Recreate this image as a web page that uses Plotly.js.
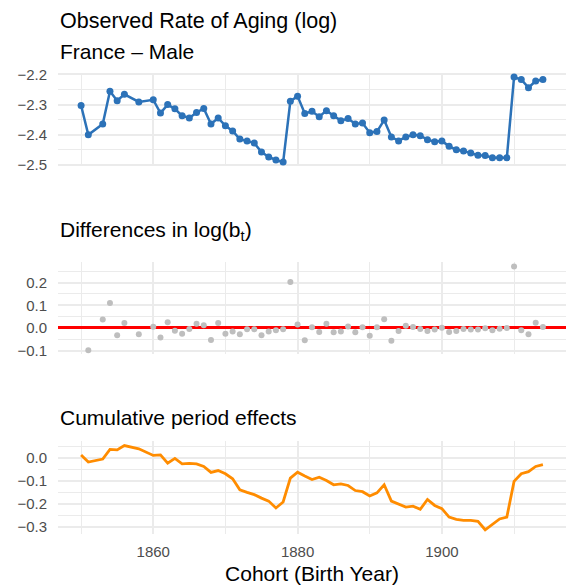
<!DOCTYPE html>
<html>
<head>
<meta charset="utf-8">
<script src="https://cdn.plot.ly/plotly-3.0.1.min.js"></script>
<style>html,body{margin:0;padding:0;background:#fff;}#chart{width:574px;height:587px;}</style>
</head>
<body>
<div id="chart"></div>
<script>
// ---- data ----
const years = [1850,1851,1853,1854,1855,1856,1858,1860,1861,1862,1863,1864,1865,1866,1867,1868,1869,1870,
  1871,1872,1873,1874,1875,1876,1877,1878,1879,1880,1881,1882,1883,1884,1885,1886,1887,1888,1889,1890,
  1891,1892,1893,1894,1895,1896,1897,1898,1899,1900,1901,1902,1903,1904,1905,1906,1907,1908,1909,1910,
  1911,1912,1913,1914];
const logRate = [-2.303,-2.400,-2.364,-2.256,-2.287,-2.266,-2.291,-2.284,-2.328,-2.300,-2.314,-2.337,-2.344,
  -2.326,-2.313,-2.364,-2.344,-2.370,-2.387,-2.414,-2.420,-2.427,-2.457,-2.473,-2.483,-2.490,-2.289,-2.272,
  -2.329,-2.322,-2.340,-2.320,-2.337,-2.353,-2.346,-2.364,-2.361,-2.393,-2.389,-2.351,-2.407,-2.420,-2.407,
  -2.400,-2.403,-2.416,-2.423,-2.420,-2.438,-2.449,-2.453,-2.460,-2.467,-2.468,-2.476,-2.476,-2.476,-2.209,
  -2.217,-2.244,-2.222,-2.217];
const diffYears = years.slice(1);
const diffs = [-0.098,0.037,0.110,-0.032,0.022,-0.028,0.006,-0.042,0.025,-0.012,-0.025,-0.004,0.019,0.012,
  -0.053,0.022,-0.025,-0.016,-0.028,-0.006,-0.006,-0.032,-0.016,-0.010,-0.006,0.203,0.015,-0.054,0.003,
  -0.018,0.019,-0.019,-0.015,0.007,-0.019,0.003,-0.034,0.003,0.038,-0.056,-0.013,0.010,0.004,-0.004,-0.013,
  -0.007,0.001,-0.018,-0.013,-0.004,-0.007,-0.007,-0.001,-0.010,-0.003,0.000,0.271,-0.010,-0.028,0.023,0.004];
const cumEffects = [0.014,-0.017,-0.004,0.038,0.036,0.055,0.041,0.012,0.014,-0.022,-0.001,-0.025,-0.023,
  -0.025,-0.036,-0.062,-0.054,-0.068,-0.090,-0.138,-0.149,-0.159,-0.174,-0.187,-0.217,-0.191,-0.087,-0.061,
  -0.078,-0.093,-0.083,-0.097,-0.116,-0.112,-0.119,-0.141,-0.146,-0.165,-0.151,-0.116,-0.187,-0.201,-0.213,
  -0.209,-0.223,-0.180,-0.206,-0.220,-0.257,-0.267,-0.271,-0.271,-0.275,-0.312,-0.290,-0.265,-0.257,-0.101,
  -0.068,-0.059,-0.036,-0.028];

const xTickVals = [1860,1880,1900];
const xTickText = ['1860','1880','1900'];
const xMinorVals = [1850,1870,1890,1910];
const y1TickVals = [-2.5,-2.4,-2.3,-2.2];
const y1TickText = ['\u22122.5','\u22122.4','\u22122.3','\u22122.2'];
const y1MinorVals = [-2.45,-2.35,-2.25];
const y2TickVals = [-0.1,0,0.1,0.2];
const y2TickText = ['\u22120.1','0.0','0.1','0.2'];
const y2MinorVals = [-0.05,0.05,0.15,0.25];
const y3TickVals = [-0.3,-0.2,-0.1,0];
const y3TickText = ['\u22120.3','\u22120.2','\u22120.1','0.0'];
const y3MinorVals = [-0.25,-0.15,-0.05,0.05];

const FONT = '"Liberation Sans", Arial, Helvetica, sans-serif';
const GRID = '#EBEBEB';

function xax(show){
  return {range:[1846.8,1917.2], tickmode:'array', tickvals:xTickVals, ticktext:xTickText,
    showticklabels:show, showgrid:true, gridcolor:GRID, gridwidth:2, zeroline:false, showline:false,
    ticks:'', automargin:false, tickfont:{size:15,color:'#4D4D4D',family:FONT}, ticklabelstandoff:7,
    minor:{tickmode:'array', tickvals:xMinorVals, showgrid:true, gridcolor:GRID, gridwidth:1}};
}
function yax(range, dom, tv, tt, mv){
  return {range:range, domain:dom, tickmode:'array', tickvals:tv, ticktext:tt, showgrid:true,
    gridcolor:GRID, gridwidth:2, zeroline:false, showline:false, ticks:'', automargin:false,
    tickfont:{size:15,color:'#4D4D4D',family:FONT}, ticklabelstandoff:10,
    minor:{tickmode:'array', tickvals:mv, showgrid:true, gridcolor:GRID, gridwidth:1}};
}

const traces = [
  {x:years, y:logRate, xaxis:'x', yaxis:'y', mode:'lines+markers', type:'scatter',
   line:{color:'#2C72B8', width:2.5}, marker:{color:'#2C72B8', size:7}, hoverinfo:'skip'},
  {x:diffYears, y:diffs, xaxis:'x2', yaxis:'y2', mode:'markers', type:'scatter',
   marker:{color:'#BEBEBE', size:6}, hoverinfo:'skip'},
  {x:years, y:cumEffects, xaxis:'x3', yaxis:'y3', mode:'lines', type:'scatter',
   line:{color:'#FF8C00', width:2.8}, hoverinfo:'skip'}
];

const H = 461.1, B = 533.6;
function py(px){ return (B - px)/H; }

const y2 = yax([-0.1165,0.2895],[py(354),py(261.8)], y2TickVals, y2TickText, y2MinorVals);
y2.zeroline = true; y2.zerolinecolor = '#FF0000'; y2.zerolinewidth = 3;

const layout = {
  width:574, height:587, showlegend:false,
  paper_bgcolor:'#fff', plot_bgcolor:'#fff',
  margin:{l:58, r:8, t:72.5, b:587-B, pad:0},
  font:{family:FONT, color:'#000'},
  xaxis:Object.assign(xax(false), {anchor:'y'}),
  xaxis2:Object.assign(xax(false), {anchor:'y2'}),
  xaxis3:Object.assign(xax(true), {anchor:'y3', title:{text:'Cohort (Birth Year)', font:{size:21,color:'#000',family:FONT}, standoff:7}}),
  yaxis:Object.assign(yax([-2.5045,-2.1955],[py(166),1], y1TickVals, y1TickText, y1MinorVals), {anchor:'x'}),
  yaxis2:Object.assign(y2, {anchor:'x2'}),
  yaxis3:Object.assign(yax([-0.3304,0.0734],[0,py(440.9)], y3TickVals, y3TickText, y3MinorVals), {anchor:'x3'}),
  annotations:[
    {text:'Observed Rate of Aging (log)', xref:'paper', yref:'paper', x:0, y:py(20), xanchor:'left', yanchor:'middle', showarrow:false, font:{size:21.5,color:'#000',family:FONT}},
    {text:'France \u2013 Male', xref:'paper', yref:'paper', x:0, y:py(50.5), xanchor:'left', yanchor:'middle', showarrow:false, font:{size:21,color:'#000',family:FONT}},
    {text:'Differences in log(b<sub>t</sub>)', xref:'paper', yref:'paper', x:0, y:py(231), xanchor:'left', yanchor:'middle', showarrow:false, font:{size:21,color:'#000',family:FONT}},
    {text:'Cumulative period effects', xref:'paper', yref:'paper', x:0, y:py(417), xanchor:'left', yanchor:'middle', showarrow:false, font:{size:21,color:'#000',family:FONT}}
  ]
};

Plotly.newPlot('chart', traces, layout, {staticPlot:true, displayModeBar:false});
</script>
</body>
</html>
